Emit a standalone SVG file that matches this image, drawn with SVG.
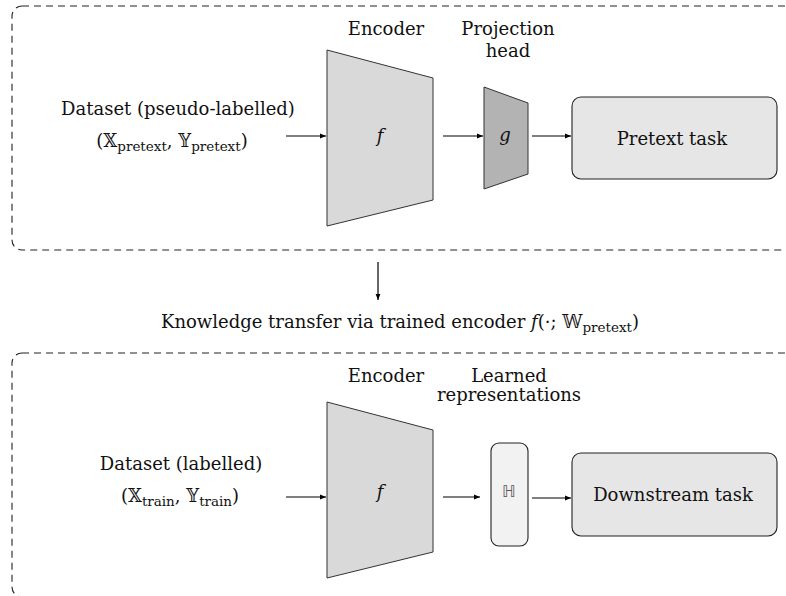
<svg xmlns="http://www.w3.org/2000/svg" width="786" height="596" viewBox="0 0 786 596">
<defs>
<marker id="ah" viewBox="0 0 10 10" refX="10" refY="5" markerWidth="6" markerHeight="6" markerUnits="userSpaceOnUse" orient="auto">
<path d="M0,1 L10,5 L0,9 z" fill="#000"/>
</marker>
<style>
text{font-family:"DejaVu Serif","DejaVu Sans",serif;font-size:18px;fill:#111}
.mid{text-anchor:middle}
.it{font-style:italic}
.sub{font-size:13.5px}
.frame{fill:none;stroke:#222;stroke-width:1.1;stroke-dasharray:7 5}
.enc{fill:#d9d9d9;stroke:#333;stroke-width:1}
.proj{fill:#b3b3b3;stroke:#333;stroke-width:1}
.task{fill:#e6e6e6;stroke:#222;stroke-width:1.1}
.rep{fill:#f2f2f2;stroke:#222;stroke-width:1.1}
.conn line{stroke:#000;stroke-width:1.2;marker-end:url(#ah)}
</style>
</defs>
<rect fill="#fff" x="0" y="0" width="786" height="596"/>

<g id="frame-pretext"><rect class="frame" x="12" y="6" width="782" height="244" rx="10"/></g>
<g id="frame-downstream"><rect class="frame" x="12" y="353" width="782" height="244" rx="10"/></g>

<g id="dataset-pretext">
<text class="mid" x="178" y="115">Dataset (pseudo-labelled)</text>
<text class="mid" x="172" y="147">(𝕏<tspan class="sub" dy="4">pretext</tspan><tspan dy="-4">, 𝕐</tspan><tspan class="sub" dy="4">pretext</tspan><tspan dy="-4">)</tspan></text>
</g>
<g id="encoder-pretext">
<polygon class="enc" points="327,50 433,78 433,200 327,226"/>
<text class="mid" x="386" y="35">Encoder</text>
<text class="mid it" x="380" y="142">f</text>
</g>
<g id="projection-head">
<polygon class="proj" points="484,87 528,103 528,174 484,189"/>
<text class="mid" x="508" y="35">Projection</text>
<text class="mid" x="508" y="57">head</text>
<text class="mid it" x="505" y="141">g</text>
</g>
<g id="pretext-task">
<rect class="task" x="572" y="97" width="205" height="82" rx="9"/>
<text class="mid" x="672" y="145">Pretext task</text>
</g>

<g id="transfer-label">
<text class="mid" x="400" y="328">Knowledge transfer via trained encoder <tspan class="it">f</tspan>(·; 𝕎<tspan class="sub" dy="4">pretext</tspan><tspan dy="-4">)</tspan></text>
</g>

<g id="dataset-train">
<text class="mid" x="181" y="470">Dataset (labelled)</text>
<text class="mid" x="180" y="502">(𝕏<tspan class="sub" dy="4">train</tspan><tspan dy="-4">, 𝕐</tspan><tspan class="sub" dy="4">train</tspan><tspan dy="-4">)</tspan></text>
</g>
<g id="encoder-train">
<polygon class="enc" points="327,402 433,430 433,552 327,578"/>
<text class="mid" x="386" y="382">Encoder</text>
<text class="mid it" x="380" y="498">f</text>
</g>
<g id="representations">
<rect class="rep" x="491" y="443" width="37" height="103" rx="8"/>
<text class="mid" x="509" y="382">Learned</text>
<text class="mid" x="509" y="401">representations</text>
<text class="mid" x="509" y="497" style="font-family:'DejaVu Sans',sans-serif;font-size:16px;fill:#555">ℍ</text>
</g>
<g id="downstream-task">
<rect class="task" x="572" y="453" width="205" height="83" rx="9"/>
<text class="mid" x="673" y="501">Downstream task</text>
</g>

<g id="connectors" class="conn">
<line x1="286" y1="136" x2="326" y2="136"/>
<line x1="443" y1="136" x2="483" y2="136"/>
<line x1="532" y1="136" x2="571" y2="136"/>
<line x1="378" y1="262" x2="378" y2="300"/>
<line x1="286" y1="497" x2="326" y2="497"/>
<line x1="443" y1="497" x2="480" y2="497"/>
<line x1="532" y1="498" x2="571" y2="498"/>
</g>
</svg>
